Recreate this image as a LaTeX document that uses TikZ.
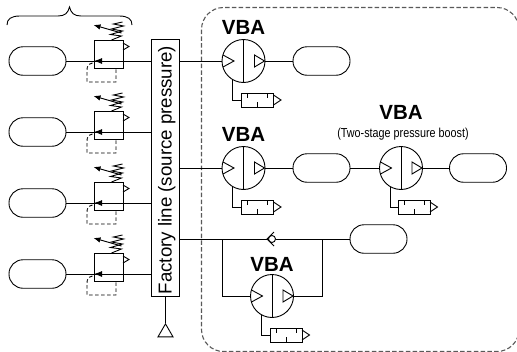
\documentclass[tikz,border=0pt]{standalone}
\usepackage{fontspec}
\setmainfont{Liberation Sans}
\usetikzlibrary{arrows.meta,shapes.geometric}

\tikzset{
  tank/.style={draw,rounded corners=14pt,minimum width=57pt,minimum height=28.5pt,inner sep=0pt},
  vba/.style={draw,circle,minimum size=43pt,inner sep=0pt},
  muffler/.style={draw,minimum width=32pt,minimum height=14pt,inner sep=0pt},
  regbox/.style={draw,minimum width=29pt,minimum height=28pt,inner sep=0pt},
  title/.style={font=\bfseries\fontsize{20.5}{20.5}\selectfont,inner sep=0pt},
  pumpmarks/.pic={
    \draw (0,-21.5) -- (0,21.5);
    \draw (-20.5,-6) -- (-9.5,0) -- (-20.5,6) ;
    \draw (21,0) -- (11,-6) -- (11,6) -- cycle;
  },
  mufflermarks/.pic={
    \draw (-10,-7) -- (-10,-2);
    \draw (10,-7) -- (10,-2);
    \draw (0,7) -- (0,2);
    \draw (16,-5) -- (23.5,0) -- (16,5);
  },
  regmarks/.pic={
    \draw (14.5,-11) -- (20.5,-7.5) -- (14.5,-4);
    \draw (3,-14) -- (13,-18) -- (2,-19.5) -- (14,-23) -- (3,-25) -- (15,-28) -- (5,-30) -- (14,-32);
    \draw[-{Latex[length=7pt,width=5.5pt]}] (13,-21) -- (-15,-29);
    \draw[-{Latex[length=8pt,width=6pt]}] (-4,7) -- (-14.5,7);
    \draw[dashed,dash pattern=on 3.5pt off 2.5pt] (-16,9) .. controls (-20,10) and (-21.5,12) .. (-21.5,16) -- (-21.5,28) -- (7.5,28) -- (7.5,14);
  }
}

\begin{document}
\begin{tikzpicture}[x=1pt,y=-1pt,line width=0.9pt]
  \clip (0,0) rectangle (517,351);
  \useasboundingbox (0,0) rectangle (517,351);
  % brace over the regulators
  \coordinate (bl) at (7,25);
  \coordinate (br) at (132,25);
  \coordinate (btip) at (69.5,7);
  \draw (bl) .. controls (7,19) and (11,16) .. (20,16) -- (58,16) .. controls (65,16) and (68,13) .. (btip)
    .. controls (71,13) and (74,16) .. (81,16) -- (119,16) .. controls (128,16) and (132,19) .. (br);
  % dashed area
  \draw[dashed,dash pattern=on 4.5pt off 2.3pt,rounded corners=22pt,line width=1.1pt,black!65] (201.5,7.5) rectangle (519,351.5);

  \node[tank] (tank1) at (37.5,61) {};
  \node[tank] (tank2) at (37.5,132) {};
  \node[tank] (tank3) at (37.5,203) {};
  \node[tank] (tank4) at (37.5,274) {};
  \node[regbox] (reg1) at (108.5,54) {};
  \node[regbox] (reg2) at (108.5,125) {};
  \node[regbox] (reg3) at (108.5,196) {};
  \node[regbox] (reg4) at (108.5,267) {};
  \pic at (reg1) {regmarks};
  \pic at (reg2) {regmarks};
  \pic at (reg3) {regmarks};
  \pic at (reg4) {regmarks};
  \node[draw,minimum width=28.5pt,minimum height=257pt,inner sep=0pt] (factory) at (165.5,167.5)
    {\rotatebox{90}{\raisebox{-1pt}[14pt][4pt]{\fontsize{18.7}{18.7}\selectfont Factory line (source pressure)\hspace{5pt}}}};
  \node[draw,regular polygon,regular polygon sides=3,minimum size=17.3pt,inner sep=0pt] (source) at (165.5,332.5) {};
  \draw (tank1) -- (factory.west |- tank1);
  \draw (tank2) -- (factory.west |- tank2);
  \draw (tank3) -- (factory.west |- tank3);
  \draw (tank4) -- (factory.west |- tank4);
  \draw (factory.south) -- (source.corner 1);

  % boosters
  \node[vba] (vba1) at (243.5,61) {};
  \node[vba] (vba2) at (243.5,168) {};
  \node[vba] (vba3) at (401,168) {};
  \node[vba] (vba4) at (272,296) {};
  \pic at (vba1) {pumpmarks};
  \pic at (vba2) {pumpmarks};
  \pic at (vba3) {pumpmarks};
  \pic at (vba4) {pumpmarks};
  \node[title] (title1) at (243.5,27) {VBA};
  \node[title] (title2) at (243.5,134) {VBA};
  \node[title] (title3) at (401,112) {VBA};
  \node[title] (title4) at (272,264) {VBA};
  \node[inner sep=0pt] (note) at (403,134.5) {\scalebox{0.83}[1]{\fontsize{13}{13}\selectfont (Two-stage pressure boost)}};

  \node[tank] (out1) at (321.5,61) {};
  \node[tank] (out2) at (321.5,168) {};
  \node[tank] (out3) at (478,168) {};
  \node[tank] (out4) at (378.5,239) {};
  \draw (factory.east |- vba1) -- (vba1);
  \draw (vba1) -- (out1);
  \draw (factory.east |- vba2) -- (vba2);
  \draw (vba2) -- (out2);
  \draw (out2) -- (vba3);
  \draw (vba3) -- (out3);
  \draw (factory.east |- out4) -- (out4);

  % bypass with check valve
  \coordinate (bp1) at (222,239);
  \coordinate (bp2) at (322,239);
  \draw (bp1) |- (vba4);
  \draw (bp2) |- (vba4);
  \node[fill=white,circle,inner sep=0pt,minimum size=8pt] (check) at (272,239) {};
  \draw (check.center) ++(2,-7) -- ++(-7,7) -- ++(7,7);
  \draw (check) circle (3.5);

  \node[muffler] (muf1) at (257.5,100) {};
  \node[muffler] (muf2) at (257.5,207) {};
  \node[muffler] (muf3) at (414,207) {};
  \node[muffler] (muf4) at (286,335) {};
  \pic at (muf1) {mufflermarks};
  \pic at (muf2) {mufflermarks};
  \pic at (muf3) {mufflermarks};
  \pic at (muf4) {mufflermarks};
  \draw (vba1.241) |- (muf1);
  \draw (vba2.241) |- (muf2);
  \draw (vba3.241) |- (muf3);
  \draw (vba4.241) |- (muf4);
\end{tikzpicture}
\end{document}
